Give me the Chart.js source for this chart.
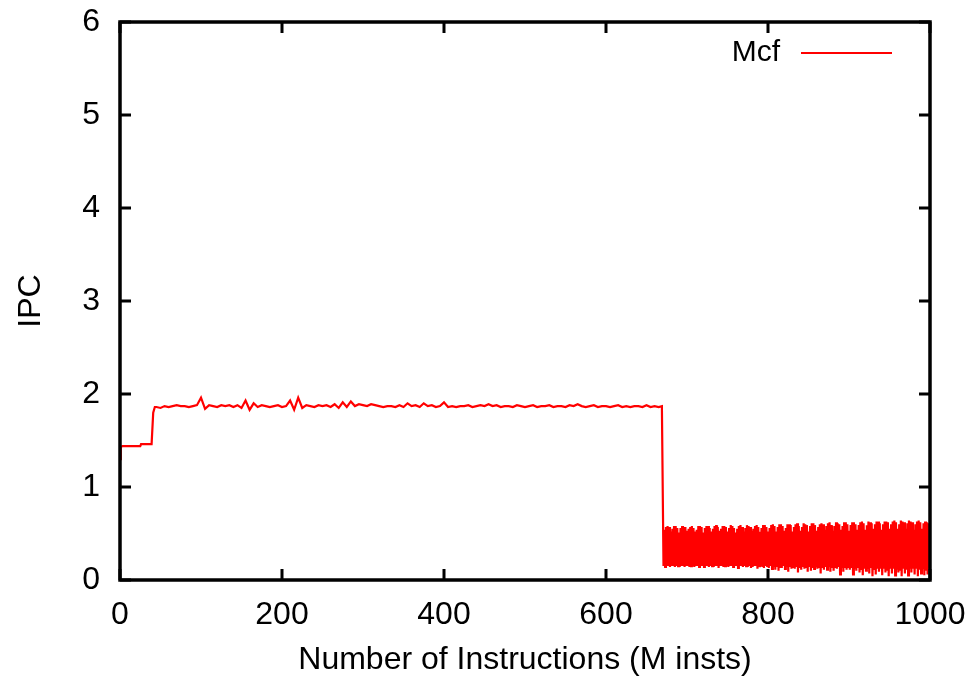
<!DOCTYPE html>
<html>
<head>
<meta charset="utf-8">
<script src="https://cdn.jsdelivr.net/npm/chart.js@4.4.1/dist/chart.umd.min.js"></script>
<style>
  html, body { margin: 0; padding: 0; background: #fff; }
</style>
</head>
<body>
<canvas id="chart" width="973" height="679"></canvas>
<script>
const seriesName = 'Mcf';
const xTitle = 'Number of Instructions (M insts)';
const yTitle = 'IPC';
const xTicks = [0, 200, 400, 600, 800, 1000];
const yTicks = [0, 1, 2, 3, 4, 5, 6];

// first phase: explicit sample positions (M insts)
const headInstr = [0, 1, 3, 25, 26, 39, 41, 43,
  45, 50, 55, 60, 65, 70, 75, 80, 85, 90,
  95, 100, 105, 110, 115, 120, 125, 130, 135, 140,
  145, 150, 155, 160, 165, 170, 175, 180, 185, 190,
  195, 200, 205, 210, 215, 220, 225, 230, 235, 240,
  245, 250, 255, 260, 265, 270, 275, 280, 285, 290,
  295, 300, 305, 310, 315, 320, 325, 330, 335, 340,
  345, 350, 355, 360, 365, 370, 375, 380, 385, 390,
  395, 400, 405, 410, 415, 420, 425, 430, 435, 440,
  445, 450, 455, 460, 465, 470, 475, 480, 485, 490,
  495, 500, 505, 510, 515, 520, 525, 530, 535, 540,
  545, 550, 555, 560, 565, 570, 575, 580, 585, 590,
  595, 600, 605, 610, 615, 620, 625, 630, 635, 640,
  645, 650, 655, 660, 665, 669];
const headIpc = [1.30, 1.43, 1.44, 1.44, 1.46, 1.46, 1.80, 1.86,
  1.86, 1.85, 1.87, 1.86, 1.87, 1.88, 1.87, 1.87, 1.86, 1.87,
  1.88, 1.96, 1.84, 1.88, 1.87, 1.86, 1.88, 1.87, 1.88, 1.86,
  1.88, 1.85, 1.93, 1.83, 1.90, 1.86, 1.88, 1.87, 1.86, 1.87,
  1.88, 1.86, 1.87, 1.93, 1.83, 1.96, 1.85, 1.88, 1.87, 1.86,
  1.88, 1.87, 1.88, 1.86, 1.89, 1.85, 1.91, 1.86, 1.92, 1.87,
  1.89, 1.88, 1.87, 1.89, 1.88, 1.87, 1.86, 1.87, 1.87, 1.86,
  1.88, 1.86, 1.90, 1.87, 1.88, 1.86, 1.90, 1.87, 1.88, 1.86,
  1.87, 1.91, 1.86, 1.87, 1.86, 1.87, 1.87, 1.88, 1.86, 1.87,
  1.88, 1.87, 1.89, 1.87, 1.88, 1.86, 1.87, 1.87, 1.86, 1.88,
  1.87, 1.86, 1.87, 1.88, 1.86, 1.87, 1.87, 1.88, 1.86, 1.87,
  1.87, 1.86, 1.88, 1.87, 1.89, 1.87, 1.86, 1.87, 1.88, 1.86,
  1.87, 1.87, 1.86, 1.87, 1.88, 1.86, 1.87, 1.86, 1.87, 1.87,
  1.86, 1.88, 1.86, 1.87, 1.86, 1.87];

// second phase: sampled every 1 M insts from 671
const tailStart = 671;
const tailStep = 1;
const tailIpc = [
  0.15, 0.54, 0.14, 0.57, 0.15, 0.58, 0.15, 0.57, 0.14, 0.52,
  0.15, 0.55, 0.15, 0.58, 0.14, 0.58, 0.15, 0.56, 0.15, 0.51,
  0.14, 0.56, 0.15, 0.58, 0.15, 0.57, 0.14, 0.57, 0.15, 0.53,
  0.15, 0.55, 0.14, 0.57, 0.15, 0.58, 0.15, 0.56, 0.14, 0.52,
  0.15, 0.54, 0.15, 0.58, 0.14, 0.58, 0.15, 0.57, 0.15, 0.51,
  0.14, 0.56, 0.15, 0.58, 0.15, 0.58, 0.14, 0.56, 0.15, 0.52,
  0.15, 0.55, 0.14, 0.58, 0.15, 0.59, 0.15, 0.57, 0.13, 0.53,
  0.15, 0.55, 0.15, 0.58, 0.14, 0.58, 0.15, 0.57, 0.15, 0.52,
  0.14, 0.56, 0.15, 0.59, 0.15, 0.58, 0.14, 0.56, 0.15, 0.51,
  0.15, 0.55, 0.13, 0.58, 0.15, 0.59, 0.15, 0.57, 0.14, 0.52,
  0.15, 0.56, 0.15, 0.59, 0.14, 0.58, 0.15, 0.57, 0.13, 0.53,
  0.14, 0.55, 0.15, 0.58, 0.15, 0.59, 0.12, 0.57, 0.15, 0.52,
  0.15, 0.56, 0.14, 0.59, 0.13, 0.59, 0.15, 0.57, 0.14, 0.52,
  0.13, 0.56, 0.15, 0.59, 0.12, 0.60, 0.14, 0.58, 0.11, 0.52,
  0.14, 0.57, 0.10, 0.60, 0.14, 0.60, 0.13, 0.58, 0.15, 0.53,
  0.12, 0.56, 0.14, 0.60, 0.09, 0.60, 0.14, 0.59, 0.12, 0.52,
  0.14, 0.57, 0.12, 0.60, 0.14, 0.61, 0.08, 0.58, 0.13, 0.53,
  0.11, 0.57, 0.14, 0.61, 0.12, 0.60, 0.14, 0.59, 0.09, 0.52,
  0.14, 0.58, 0.10, 0.61, 0.13, 0.61, 0.12, 0.59, 0.14, 0.53,
  0.12, 0.57, 0.14, 0.60, 0.07, 0.61, 0.13, 0.60, 0.11, 0.54,
  0.14, 0.58, 0.11, 0.61, 0.14, 0.62, 0.09, 0.59, 0.13, 0.53,
  0.10, 0.58, 0.13, 0.62, 0.12, 0.61, 0.14, 0.60, 0.06, 0.54,
  0.13, 0.58, 0.09, 0.62, 0.13, 0.62, 0.11, 0.60, 0.13, 0.53,
  0.11, 0.59, 0.13, 0.62, 0.06, 0.62, 0.12, 0.60, 0.10, 0.54,
  0.13, 0.59, 0.08, 0.62, 0.12, 0.63, 0.05, 0.61, 0.12, 0.54,
  0.10, 0.59, 0.12, 0.63, 0.07, 0.62, 0.13, 0.61, 0.04, 0.55,
  0.12, 0.60, 0.06, 0.63, 0.12, 0.63, 0.09, 0.61, 0.12, 0.54,
  0.05, 0.60, 0.12, 0.63, 0.08, 0.63, 0.11, 0.62, 0.04, 0.55,
  0.12, 0.60, 0.07, 0.63, 0.12, 0.64, 0.05, 0.62, 0.11, 0.55,
  0.08, 0.60, 0.11, 0.64, 0.04, 0.63, 0.12, 0.62, 0.07, 0.55,
  0.11, 0.61, 0.05, 0.64, 0.12, 0.63, 0.08, 0.62, 0.12, 0.54,
  0.06, 0.60, 0.12, 0.63, 0.04, 0.64, 0.11, 0.62, 0.07, 0.55,
  0.12, 0.61, 0.05, 0.63, 0.10, 0.62, 0.06, 0.61, 0.12, 0.58
];

const FONT = "'Liberation Sans', Arial, sans-serif";

const points = headInstr.map((x, i) => ({ x: x, y: headIpc[i] }))
  .concat(tailIpc.map((y, i) => ({ x: tailStart + i * tailStep, y: y })));

// keep the plot box fixed; labels may overhang into the margins
function noPad(s) {
  s.paddingTop = 0; s.paddingBottom = 0; s.paddingLeft = 0; s.paddingRight = 0;
}

// gnuplot style box with inward ticks on all four sides
const framePlugin = {
  id: 'frame',
  afterDatasetsDraw(chart) {
    const { ctx, chartArea: a, scales } = chart;
    const len = 11;
    ctx.save();
    ctx.strokeStyle = '#000';
    ctx.lineWidth = 3;
    ctx.beginPath();
    xTicks.forEach(v => {
      const px = scales.x.getPixelForValue(v);
      ctx.moveTo(px, a.bottom); ctx.lineTo(px, a.bottom - len);
      ctx.moveTo(px, a.top); ctx.lineTo(px, a.top + len);
    });
    yTicks.forEach(v => {
      const py = scales.y.getPixelForValue(v);
      ctx.moveTo(a.left, py); ctx.lineTo(a.left + len, py);
      ctx.moveTo(a.right, py); ctx.lineTo(a.right - len, py);
    });
    ctx.stroke();
    ctx.lineWidth = 3.5;
    ctx.strokeRect(a.left, a.top, a.right - a.left, a.bottom - a.top);
    ctx.restore();
  }
};

// key in the top right corner: title then line sample
const keyPlugin = {
  id: 'key',
  afterDraw(chart) {
    const { ctx, chartArea: a } = chart;
    const ds = chart.data.datasets[0];
    const y = a.top + 31;
    ctx.save();
    ctx.font = '30px ' + FONT;
    ctx.fillStyle = '#000';
    ctx.textAlign = 'right';
    ctx.textBaseline = 'middle';
    ctx.fillText(ds.label, a.right - 150, y);
    ctx.strokeStyle = ds.borderColor;
    ctx.lineWidth = 2;
    ctx.beginPath();
    ctx.moveTo(a.right - 129, y);
    ctx.lineTo(a.right - 38, y);
    ctx.stroke();
    ctx.restore();
  }
};

new Chart(document.getElementById('chart'), {
  type: 'line',
  data: {
    datasets: [{
      label: seriesName,
      data: points,
      borderColor: '#ff0000',
      borderWidth: 2.2,
      pointRadius: 0,
      fill: false,
      tension: 0
    }]
  },
  options: {
    responsive: false,
    animation: false,
    layout: { padding: { top: 22, right: 43, left: 0, bottom: 0 } },
    plugins: {
      legend: { display: false },
      tooltip: { enabled: false }
    },
    scales: {
      x: {
        type: 'linear',
        min: 0,
        max: 1000,
        afterFit: s => { s.height = 99; noPad(s); },
        afterBuildTicks: s => { s.ticks = xTicks.map(v => ({ value: v })); },
        grid: { display: false, drawTicks: false },
        border: { display: false },
        ticks: { color: '#000', font: { family: FONT, size: 32 }, padding: 16, maxRotation: 0, callback: v => String(v) },
        title: { display: true, text: xTitle, color: '#000', font: { family: FONT, size: 32 }, padding: { top: 3, bottom: 0 } }
      },
      y: {
        type: 'linear',
        min: 0,
        max: 6,
        afterFit: s => { s.width = 120; noPad(s); },
        afterBuildTicks: s => { s.ticks = yTicks.map(v => ({ value: v })); },
        grid: { display: false, drawTicks: false },
        border: { display: false },
        ticks: { color: '#000', font: { family: FONT, size: 32 }, padding: 20, callback: v => String(v) },
        title: { display: true, text: yTitle, color: '#000', font: { family: FONT, size: 32 }, padding: { top: 12, bottom: 0 } }
      }
    }
  },
  plugins: [framePlugin, keyPlugin]
});
</script>
</body>
</html>
